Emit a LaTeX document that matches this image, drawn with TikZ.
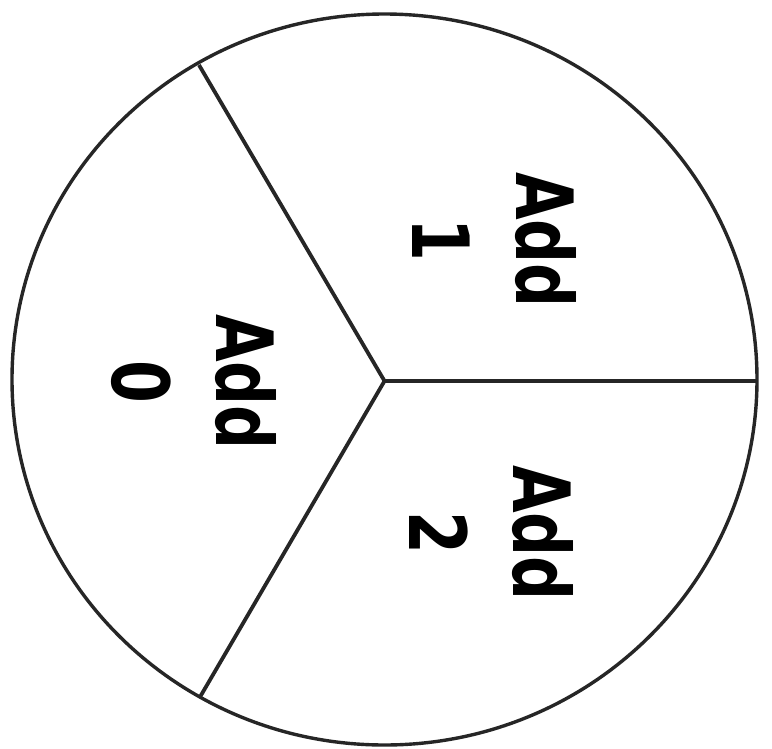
\documentclass[tikz,border=0pt]{standalone}
\usepackage{fontspec}
\setmainfont{DejaVu Sans}
\newcommand{\sq}[1]{\scalebox{0.78}[1]{#1}}
\begin{document}
\begin{tikzpicture}[x=1pt,y=-1pt,
  rim/.style={draw=black!85, line width=3.4pt},
  spoke/.style={draw=black!85, line width=3.8pt},
  lbl/.style={rotate=-90, align=center, inner sep=0pt,
    font=\bfseries\fontsize{79}{104}\selectfont}]
  \useasboundingbox (0,0) rectangle (772,748);
  \coordinate (c) at (384.5,381);
  \draw[rim] (384.5,379.5) ellipse [x radius=372.5, y radius=365.5];
  \coordinate (e1) at (757,381);
  \coordinate (e2) at (199,65);
  \coordinate (e3) at (200,697);
  \draw[spoke] (c) -- (e1);
  \draw[spoke] (c) -- (e2);
  \draw[spoke] (c) -- (e3);
  \node[lbl] (l1) at (494.5,240) {\sq{Add}\\\sq{1}};
  \node[lbl] (l0) at (194,382) {\sq{Add}\\\sq{0}};
  \node[lbl] (l2) at (491.5,533) {\sq{Add}\\\sq{2}};
\end{tikzpicture}
\end{document}
